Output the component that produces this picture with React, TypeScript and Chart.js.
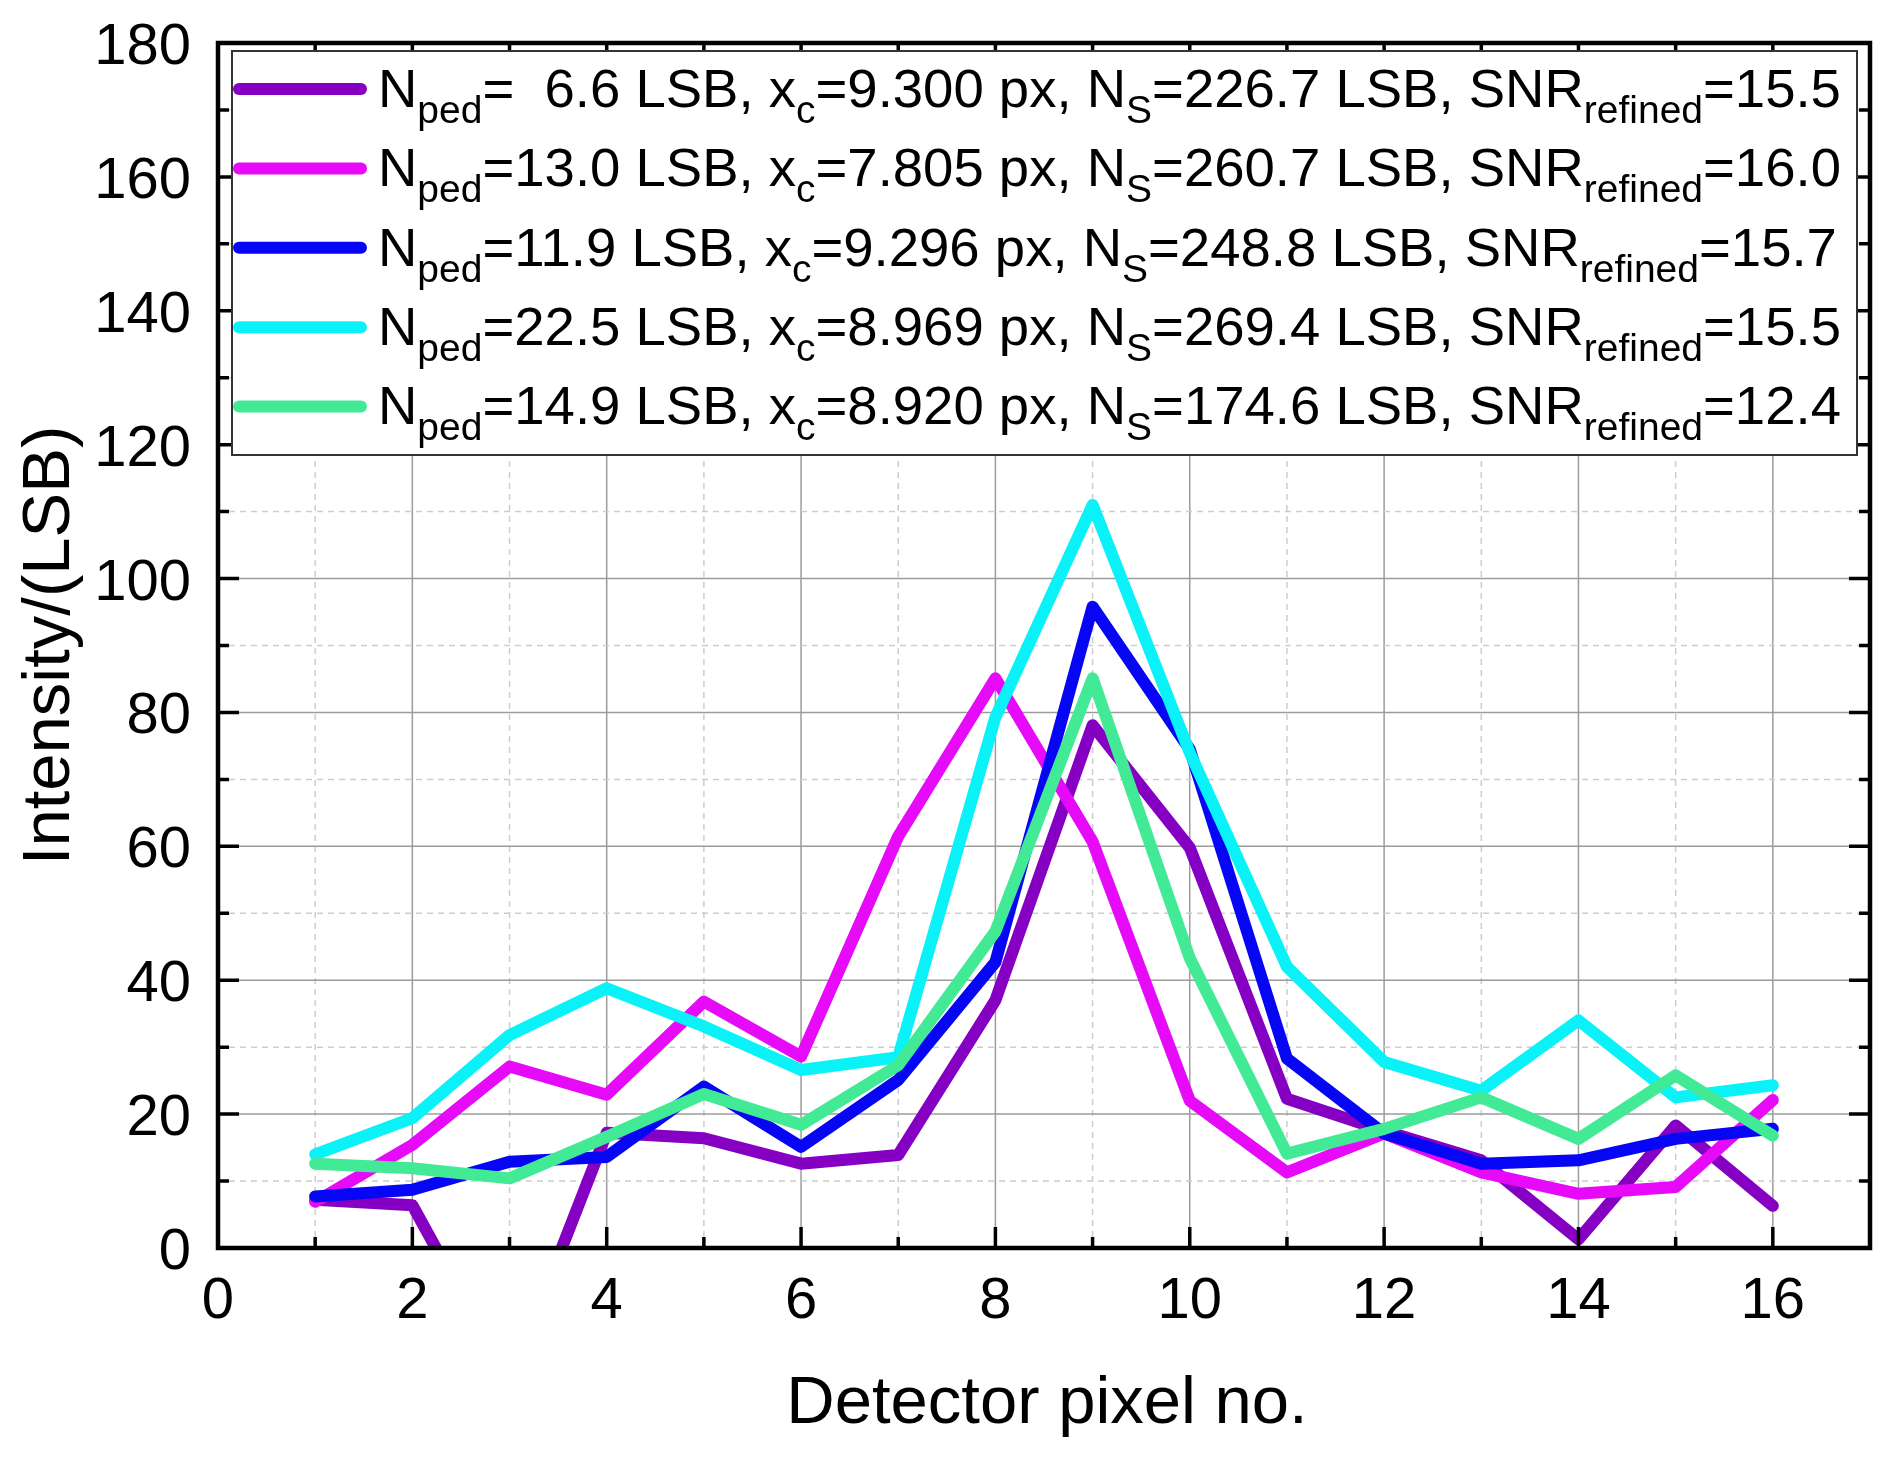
import React, { useEffect, useRef } from "react";
import { Chart, registerables } from "chart.js";

Chart.register(...registerables);

const pixels = [1, 2, 3, 4, 5, 6, 7, 8, 9, 10, 11, 12, 13, 14, 15, 16];

const seriesPurple = [7.2, 6.4, -20, 17.2, 16.4, 12.6, 13.9, 37.0, 78.1, 59.8, 22.3, 17.5, 13.1, 1.3, 18.3, 6.3];
const seriesMagenta = [6.9, 15.4, 27.1, 22.9, 36.8, 28.6, 61.5, 85.1, 60.7, 22.0, 11.3, 17.1, 11.3, 8.1, 9.1, 22.1];
const seriesBlue = [7.7, 8.7, 12.9, 13.6, 24.1, 15.1, 25.1, 42.7, 95.8, 74.5, 28.3, 17.1, 12.6, 13.1, 16.3, 17.8];
const seriesCyan = [14.0, 19.4, 31.8, 38.8, 33.1, 26.6, 28.5, 79.3, 111.0, 74.0, 42.0, 27.8, 23.5, 34.0, 22.5, 24.3];
const seriesGreen = [12.6, 11.9, 10.4, 16.6, 23.0, 18.4, 27.3, 47.3, 85.1, 43.3, 14.1, 17.8, 22.5, 16.3, 25.8, 16.8];

const legendNped = ["  6.6", "13.0", "11.9", "22.5", "14.9"];
const legendXc = ["9.300", "7.805", "9.296", "8.969", "8.920"];
const legendNs = ["226.7", "260.7", "248.8", "269.4", "174.6"];
const legendSnr = ["15.5", "16.0", "15.7", "15.5", "12.4"];

const xTickLabels = [0, 2, 4, 6, 8, 10, 12, 14, 16];
const yTickLabels = [0, 20, 40, 60, 80, 100, 120, 140, 160, 180];

const xTitle = "Detector pixel no.";
const yTitle = "Intensity/(LSB)";

const FONT = '"Liberation Sans", Arial, Helvetica, sans-serif';

const seriesList = [
  { data: seriesPurple, color: "#8600c4" },
  { data: seriesMagenta, color: "#e70af8" },
  { data: seriesBlue, color: "#0606f4" },
  { data: seriesCyan, color: "#08f2f8" },
  { data: seriesGreen, color: "#43ea96" },
];

const decorPlugin = {
  id: "decor",
  beforeDatasetsDraw(chart: any) {
    const ctx = chart.ctx;
    const xs = chart.scales.x;
    const ys = chart.scales.y;
    const { left, right, top, bottom } = chart.chartArea;
    ctx.save();
    ctx.lineWidth = 1.5;
    for (let v = 1; v < 17; v++) {
      const px = xs.getPixelForValue(v);
      ctx.beginPath();
      if (v % 2 === 0) {
        ctx.strokeStyle = "#9c9c9c";
        ctx.setLineDash([]);
      } else {
        ctx.strokeStyle = "#cdcdcd";
        ctx.setLineDash([6, 5]);
      }
      ctx.moveTo(px, top);
      ctx.lineTo(px, bottom);
      ctx.stroke();
    }
    for (let v = 10; v < 180; v += 10) {
      const py = ys.getPixelForValue(v);
      ctx.beginPath();
      if (v % 20 === 0) {
        ctx.strokeStyle = "#9c9c9c";
        ctx.setLineDash([]);
      } else {
        ctx.strokeStyle = "#cdcdcd";
        ctx.setLineDash([6, 5]);
      }
      ctx.moveTo(left, py);
      ctx.lineTo(right, py);
      ctx.stroke();
    }
    ctx.restore();
  },
  afterDatasetsDraw(chart: any) {
    const ctx = chart.ctx;
    const xs = chart.scales.x;
    const ys = chart.scales.y;
    const { left, right, top, bottom } = chart.chartArea;
    ctx.save();
    ctx.setLineDash([]);
    ctx.strokeStyle = "#000";
    // ticks
    ctx.lineWidth = 3.5;
    for (let v = 1; v < 17; v++) {
      const px = xs.getPixelForValue(v);
      const len = v % 2 === 0 ? 21 : 11;
      ctx.beginPath();
      ctx.moveTo(px, bottom);
      ctx.lineTo(px, bottom - len);
      ctx.moveTo(px, top);
      ctx.lineTo(px, top + len);
      ctx.stroke();
    }
    for (let v = 10; v < 180; v += 10) {
      const py = ys.getPixelForValue(v);
      const len = v % 20 === 0 ? 21 : 11;
      ctx.beginPath();
      ctx.moveTo(left, py);
      ctx.lineTo(left + len, py);
      ctx.moveTo(right, py);
      ctx.lineTo(right - len, py);
      ctx.stroke();
    }
    // frame
    ctx.lineWidth = 4.5;
    ctx.strokeRect(left, top, right - left, bottom - top);

    // tick labels
    ctx.fillStyle = "#000";
    ctx.font = `58px ${FONT}`;
    ctx.textAlign = "center";
    ctx.textBaseline = "alphabetic";
    for (const v of xTickLabels) {
      ctx.fillText(String(v), xs.getPixelForValue(v), bottom + 70);
    }
    ctx.textAlign = "right";
    for (const v of yTickLabels) {
      ctx.fillText(String(v), left - 27, ys.getPixelForValue(v) + 21);
    }

    // titles
    ctx.font = `67px ${FONT}`;
    ctx.textAlign = "center";
    ctx.fillText(xTitle, (left + right) / 2 + 3, 1423);
    ctx.save();
    ctx.translate(69, (top + bottom) / 2);
    ctx.rotate(-Math.PI / 2);
    ctx.fillText(yTitle, 0, 0);
    ctx.restore();

    // legend
    const bx = 232, by = 51, bw = 1625, bh = 404;
    ctx.fillStyle = "#fff";
    ctx.fillRect(bx, by, bw, bh);
    ctx.strokeStyle = "#333";
    ctx.lineWidth = 2;
    ctx.strokeRect(bx, by, bw, bh);
    const rowGap = 79.4;
    for (let i = 0; i < seriesList.length; i++) {
      const ly = 89 + i * rowGap;
      ctx.strokeStyle = seriesList[i].color;
      ctx.lineWidth = 12;
      ctx.lineCap = "round";
      ctx.beginPath();
      ctx.moveTo(239, ly);
      ctx.lineTo(361, ly);
      ctx.stroke();
      const base = ly + 17.7;
      const segs: [string, boolean][] = [
        ["N", false],
        ["ped", true],
        ["=" + legendNped[i] + " LSB, x", false],
        ["c", true],
        ["=" + legendXc[i] + " px, N", false],
        ["S", true],
        ["=" + legendNs[i] + " LSB, SNR", false],
        ["refined", true],
        ["=" + legendSnr[i], false],
      ];
      let x = 378;
      ctx.fillStyle = "#000";
      ctx.textAlign = "left";
      for (const [t, sub] of segs) {
        ctx.font = sub ? `39px ${FONT}` : `54.5px ${FONT}`;
        ctx.fillText(t, x, sub ? base + 16 : base);
        x += ctx.measureText(t).width;
      }
    }
    ctx.restore();
  },
};

export default function App() {
  const canvasRef = useRef<HTMLCanvasElement | null>(null);

  useEffect(() => {
    if (!canvasRef.current) return;
    const datasets = seriesList.map((s, i) => ({
      data: pixels.map((p, k) => ({ x: p, y: s.data[k] })),
      borderColor: s.color,
      backgroundColor: s.color,
      borderWidth: 12,
      pointRadius: 0,
      borderCapStyle: "round" as const,
      borderJoinStyle: "round" as const,
      tension: 0,
      fill: false,
      clip: 0,
      order: seriesList.length - i,
    }));
    const chart = new Chart(canvasRef.current, {
      type: "line",
      data: { datasets },
      options: {
        animation: false,
        responsive: true,
        maintainAspectRatio: false,
        layout: { padding: { left: 218, top: 43, right: 22, bottom: 209 } },
        scales: {
          x: { type: "linear", min: 0, max: 17, display: false },
          y: { type: "linear", min: 0, max: 180, display: false },
        },
        plugins: {
          legend: { display: false },
          tooltip: { enabled: false },
        },
      },
      plugins: [decorPlugin],
    });
    return () => chart.destroy();
  }, []);

  return (
    <div
      style={{
        position: "fixed",
        left: 0,
        top: 0,
        width: "1892px",
        height: "1457px",
        background: "#fff",
      }}
    >
      <canvas ref={canvasRef} />
    </div>
  );
}
